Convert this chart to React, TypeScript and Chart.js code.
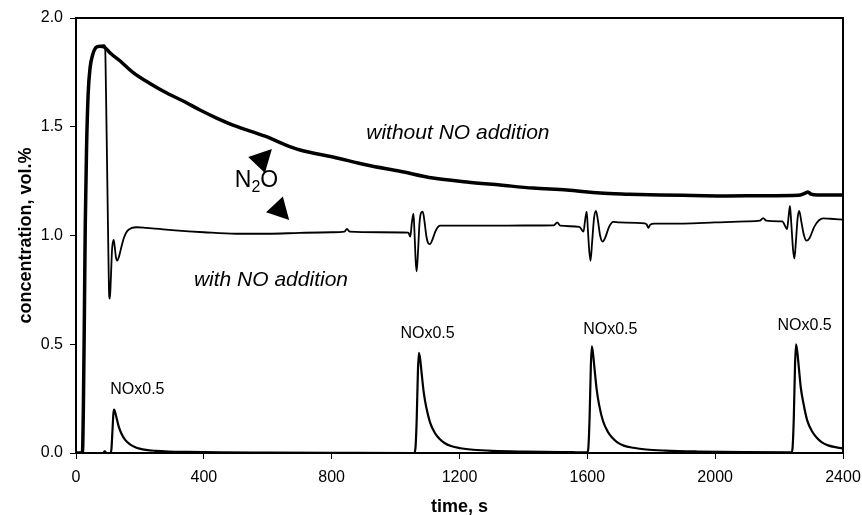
import React, { useEffect, useRef } from "react";
import { Chart, registerables } from "chart.js";

Chart.register(...registerables);

const FONT = '"Liberation Sans", Arial, Helvetica, sans-serif';

// x axis: time, s ; y axis: concentration, vol.%
const xTickStep = 400;
const xMax = 2400;
const yTickStep = 0.5;
const yMax = 2.0;

// N2O without NO addition (thick)
const timeWithout = [
  0, 20, 23, 26, 29, 33, 38, 44, 52, 60,
  75, 90, 106, 140, 178, 230, 284, 340, 388, 440,
  491, 545, 598, 650, 701, 804, 910, 1014, 1117, 1223,
  1327, 1430, 1536, 1640, 1730, 1827, 1930, 2037, 2150, 2260,
  2282, 2290, 2300, 2320, 2400,
];
const concWithout = [
  0, 0, 0.2, 0.6, 1.05, 1.4, 1.65, 1.77, 1.83, 1.86,
  1.87, 1.865, 1.84, 1.8, 1.75, 1.7, 1.655, 1.615, 1.577, 1.54,
  1.508, 1.48, 1.453, 1.42, 1.393, 1.361, 1.324, 1.295, 1.264, 1.246,
  1.232, 1.218, 1.209, 1.195, 1.19, 1.186, 1.184, 1.182, 1.183, 1.185,
  1.195, 1.2, 1.19, 1.186, 1.186,
];

// N2O with NO addition (thin)
const timeWith = [
  0, 20, 23, 26, 29, 33, 38, 44, 52, 60,
  75, 88, 91, 94, 97, 101, 104, 106, 109, 113,
  118, 121, 125, 129, 134, 140, 150, 160, 175, 190,
  220, 260, 300, 400, 500, 600, 700, 800, 840, 848,
  856, 950, 1040, 1046, 1051, 1056, 1059, 1063, 1066, 1070,
  1075, 1080, 1085, 1090, 1096, 1102, 1108, 1115, 1125, 1133,
  1140, 1200, 1300, 1400, 1495, 1506, 1515, 1575, 1588, 1593,
  1598, 1602, 1606, 1610, 1615, 1621, 1627, 1633, 1640, 1648,
  1656, 1668, 1681, 1700, 1780, 1786, 1791, 1797, 1810, 1900,
  2000, 2100, 2140, 2150, 2160, 2200, 2210, 2220, 2225, 2230,
  2234, 2238, 2244, 2248, 2253, 2258, 2263, 2270, 2278, 2286,
  2296, 2310, 2325, 2338, 2360, 2400,
];
const concWith = [
  0, 0, 0.2, 0.6, 1.05, 1.4, 1.65, 1.77, 1.83, 1.86,
  1.87, 1.875, 1.87, 1.65, 1.35, 0.95, 0.72, 0.71, 0.8, 0.94,
  0.98, 0.95, 0.9, 0.885, 0.9, 0.935, 0.99, 1.02, 1.035, 1.038,
  1.035, 1.03, 1.025, 1.015, 1.008, 1.008, 1.012, 1.015, 1.018, 1.03,
  1.018, 1.015, 1.013, 0.995, 1.06, 1.1, 1.02, 0.88, 0.835, 0.92,
  1.06, 1.105, 1.11, 1.07, 1.0, 0.965, 0.96, 0.98, 1.02, 1.04,
  1.045, 1.045, 1.045, 1.046, 1.047, 1.06, 1.045, 1.04, 1.018, 1.07,
  1.11, 1.02, 0.93, 0.884, 0.97, 1.08, 1.113, 1.07, 1.0, 0.972,
  0.99, 1.04, 1.063, 1.06, 1.056, 1.05, 1.035, 1.05, 1.055, 1.055,
  1.06, 1.065, 1.068, 1.08, 1.068, 1.065, 1.065, 1.04, 1.03, 1.09,
  1.136, 1.06, 0.93, 0.895, 0.98, 1.08, 1.113, 1.06, 1.0, 0.976,
  0.99, 1.04, 1.07, 1.079, 1.077, 1.073,
];

// NO x 0.5
const timeNOx = [
  0, 85, 90, 95, 108, 111, 114, 117, 119, 123,
  128, 134, 142, 154, 169, 184, 199, 219, 249, 289,
  349, 449, 600, 800, 1058, 1062, 1066, 1070, 1073, 1077,
  1082, 1088, 1096, 1108, 1123, 1138, 1153, 1173, 1203, 1243,
  1303, 1403, 1553, 1600, 1603, 1607, 1611, 1614, 1618, 1623,
  1629, 1637, 1649, 1664, 1679, 1694, 1714, 1744, 1784, 1844,
  1944, 2094, 2239, 2242, 2246, 2250, 2253, 2257, 2262, 2268,
  2276, 2288, 2303, 2318, 2333, 2353, 2383, 2400,
];
const concNOx = [
  0, 0, 0.008, 0, 0, 0.02, 0.1, 0.18, 0.2, 0.185,
  0.155, 0.12, 0.09, 0.06, 0.04, 0.028, 0.02, 0.014, 0.01, 0.007,
  0.005, 0.003, 0.002, 0.001, 0, 0.02, 0.15, 0.38, 0.46, 0.43,
  0.36, 0.28, 0.21, 0.14, 0.092, 0.064, 0.046, 0.032, 0.022, 0.015,
  0.01, 0.0065, 0.0037, 0.003, 0.02, 0.16, 0.4, 0.49, 0.455, 0.38,
  0.295, 0.22, 0.147, 0.098, 0.069, 0.049, 0.034, 0.024, 0.016, 0.011,
  0.007, 0.004, 0.003, 0.02, 0.16, 0.41, 0.5, 0.465, 0.39, 0.3,
  0.23, 0.15, 0.1, 0.07, 0.05, 0.035, 0.025, 0.021,
];

// Annotations (in data coordinates)
const italicLabels = [
  { text: "without NO addition", t: 1195, v: 1.444 },
  { text: "with NO addition", t: 610, v: 0.768 },
];
const noxLabelText = "NOx0.5";
const noxLabelPos = [
  { t: 192, v: 0.27 },
  { t: 1100, v: 0.527 },
  { t: 1672, v: 0.545 },
  { t: 2280, v: 0.565 },
];
const n2oLabel = { t: 497, v: 1.223 };
const arrows = [
  { tipT: 613, tipV: 1.398, baseT: 565, baseV: 1.324 },
  { tipT: 667, tipV: 1.071, baseT: 621, baseV: 1.143 },
];

const toPoints = (ts: number[], vs: number[]) => ts.map((t, i) => ({ x: t, y: vs[i] }));

const annotationPlugin = {
  id: "customAnnotations",
  afterDatasetsDraw(chart: any) {
    const ctx = chart.ctx as CanvasRenderingContext2D;
    const xs = chart.scales.x;
    const ys = chart.scales.y;
    const px = (t: number) => xs.getPixelForValue(t);
    const py = (v: number) => ys.getPixelForValue(v);
    ctx.save();
    ctx.fillStyle = "#000";
    ctx.textBaseline = "alphabetic";
    ctx.textAlign = "center";
    ctx.font = `italic 21px ${FONT}`;
    for (const l of italicLabels) ctx.fillText(l.text, px(l.t), py(l.v));
    ctx.font = `16px ${FONT}`;
    for (const p of noxLabelPos) ctx.fillText(noxLabelText, px(p.t), py(p.v));

    // N2O with subscript
    ctx.textAlign = "left";
    let x = px(n2oLabel.t);
    const y = py(n2oLabel.v);
    ctx.font = `23px ${FONT}`;
    ctx.fillText("N", x, y);
    x += ctx.measureText("N").width;
    ctx.font = `16px ${FONT}`;
    ctx.fillText("2", x, y + 5);
    x += ctx.measureText("2").width;
    ctx.font = `23px ${FONT}`;
    ctx.fillText("O", x, y);

    // arrowheads
    for (const a of arrows) {
      const tx = px(a.tipT), ty = py(a.tipV);
      const bx = px(a.baseT), by = py(a.baseV);
      const dx = tx - bx, dy = ty - by;
      const len = Math.hypot(dx, dy) || 1;
      const nx = -dy / len, ny = dx / len;
      const hw = 11.5;
      ctx.beginPath();
      ctx.moveTo(tx, ty);
      ctx.lineTo(bx + nx * hw, by + ny * hw);
      ctx.lineTo(bx - nx * hw, by - ny * hw);
      ctx.closePath();
      ctx.fill();
    }

    // frame
    const { left, top, right, bottom } = chart.chartArea;
    ctx.lineWidth = 2;
    ctx.strokeStyle = "#000";
    ctx.strokeRect(left, top, right - left, bottom - top);
    ctx.restore();
  },
};

export default function App() {
  const canvasRef = useRef<HTMLCanvasElement | null>(null);

  useEffect(() => {
    if (!canvasRef.current) return;
    Chart.defaults.font.family = FONT;
    Chart.defaults.color = "#000";
    const chart = new Chart(canvasRef.current, {
      type: "line",
      data: {
        datasets: [
          {
            label: "without NO addition",
            data: toPoints(timeWithout, concWithout),
            borderColor: "#000",
            borderWidth: 3.5,
            pointRadius: 0,
            cubicInterpolationMode: "monotone",
          },
          {
            label: "with NO addition",
            data: toPoints(timeWith, concWith),
            borderColor: "#000",
            borderWidth: 1.8,
            pointRadius: 0,
            cubicInterpolationMode: "monotone",
          },
          {
            label: "NOx0.5",
            data: toPoints(timeNOx, concNOx),
            borderColor: "#000",
            borderWidth: 2.2,
            pointRadius: 0,
            cubicInterpolationMode: "monotone",
          },
        ],
      },
      options: {
        responsive: false,
        animation: false,
        layout: { padding: { left: 0, top: 18, right: 19, bottom: 0 } },
        plugins: {
          legend: { display: false },
          tooltip: { enabled: false },
        },
        scales: {
          x: {
            type: "linear",
            min: 0,
            max: xMax,
            afterFit: (s: any) => {
              s.height = 62;
              s.paddingLeft = 0;
              s.paddingRight = 0;
            },
            ticks: {
              stepSize: xTickStep,
              padding: 9,
              color: "#000",
              font: { size: 16, family: FONT },
              maxRotation: 0,
              callback: (v: any) => String(v),
            },
            grid: {
              display: true,
              drawOnChartArea: false,
              drawTicks: true,
              tickLength: 6,
              color: "#000",
              lineWidth: 1,
            },
            border: { display: false },
            title: {
              display: true,
              text: "time, s",
              color: "#000",
              font: { size: 18, weight: "bold", family: FONT, lineHeight: 0.85 },
              padding: 0,
            },
          },
          y: {
            type: "linear",
            min: 0,
            max: yMax,
            afterFit: (s: any) => {
              s.width = 76;
              s.paddingTop = 0;
              s.paddingBottom = 0;
            },
            ticks: {
              stepSize: yTickStep,
              padding: 7,
              color: "#000",
              font: { size: 16, family: FONT },
              callback: (v: any) => Number(v).toFixed(1),
            },
            grid: {
              display: true,
              drawOnChartArea: false,
              drawTicks: true,
              tickLength: 6,
              color: "#000",
              lineWidth: 1,
            },
            border: { display: false },
            title: {
              display: true,
              text: "concentration, vol.%",
              color: "#000",
              font: { size: 18, weight: "bold", family: FONT, lineHeight: 1 },
              padding: { top: 17, bottom: 0 },
            },
          },
        },
      },
      plugins: [annotationPlugin],
    } as any);
    return () => chart.destroy();
  }, []);

  return (
    <div style={{ position: "absolute", left: 0, top: 0, width: 862, height: 515, background: "#fff" }}>
      <canvas ref={canvasRef} width={862} height={515} style={{ display: "block" }} />
    </div>
  );
}
